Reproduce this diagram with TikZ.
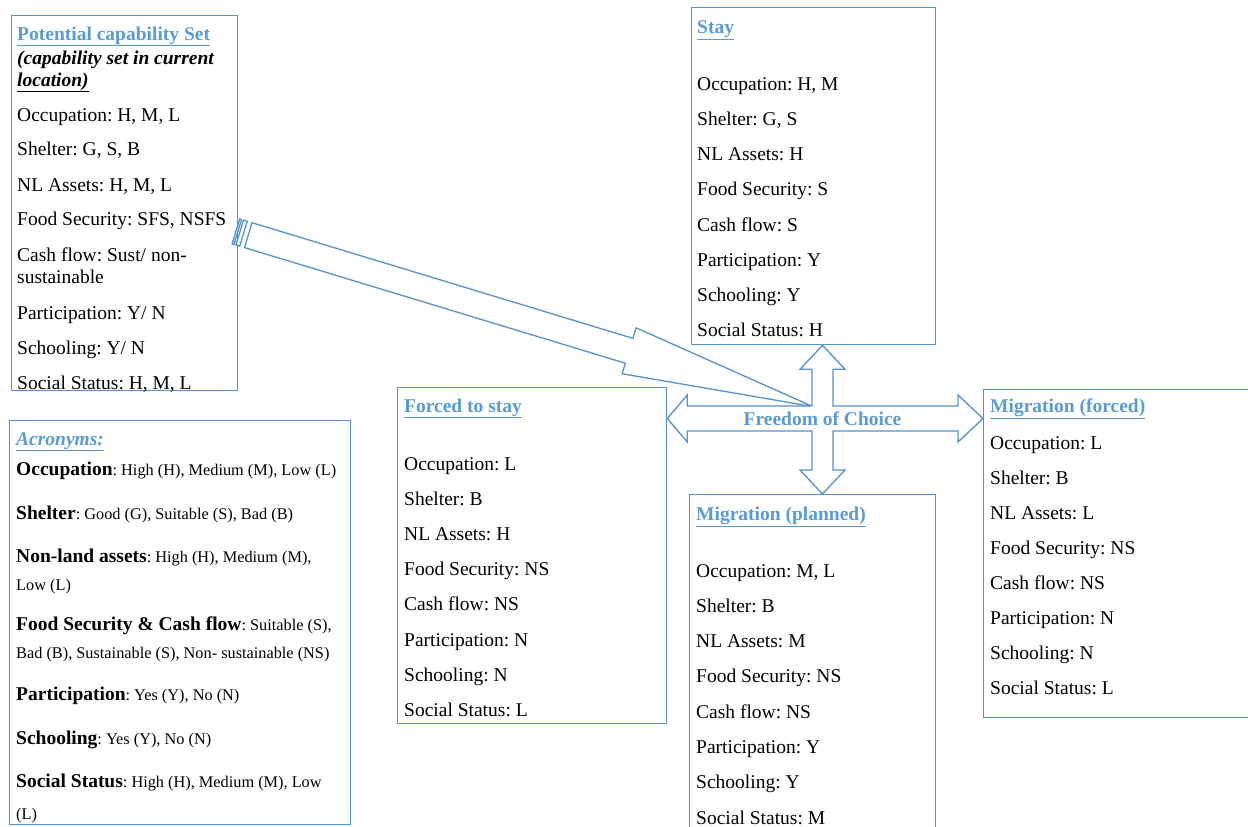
\documentclass[tikz,border=0pt]{standalone}
\usepackage{fontspec}
\setmainfont{Liberation Serif}
\usepackage{tikz}
\usetikzlibrary{positioning, calc}

\definecolor{boxblue}{RGB}{86,145,208}
\definecolor{headblue}{RGB}{91,155,213}

\tikzstyle{panel} =
[rectangle, anchor=north west, inner sep=0pt, draw=boxblue, line width=1.3pt]
\tikzstyle{entry} =
[anchor=base west, inner sep=0pt, font=\fontsize{19.5}{22}\selectfont]
\tikzstyle{heading} =
[entry, text=headblue, font=\fontsize{19.5}{22}\selectfont\bfseries]
\tikzstyle{subheading} =
[entry, font=\fontsize{19.5}{22}\selectfont\bfseries\itshape]
\tikzstyle{acroentry} =
[entry, font=\fontsize{16.3}{20}\selectfont]
\tikzstyle{block} = [draw=boxblue, line width=1.3pt, fill=white, line join=miter]

\newcommand{\acrlab}[1]{{\fontsize{19.5}{22}\selectfont\bfseries #1}}

\begin{document}
\frenchspacing
\begin{tikzpicture}[x=1pt, y=-1pt]
  \useasboundingbox (0,0) rectangle (1248,827);
  \clip (0,0) rectangle (1248,827);
  % boxes
  \node [panel, minimum width=226pt, minimum height=375pt] (potential) at (11,15) {};
  \node [panel, minimum width=341pt, minimum height=404pt] (acronyms) at (9,420) {};
  \node [panel, minimum width=244pt, minimum height=337pt] (stay) at (691,7) {};
  \node [panel, minimum width=269pt, minimum height=336pt] (forcedstay) at (397,387) {};
  \node [panel, minimum width=246pt, minimum height=350pt] (planned) at (689,494) {};
  \node [panel, minimum width=280pt, minimum height=328pt] (forced) at (983,389) {};
  %
  % potential capability set
  \node [heading] (pot-title) at (17,40) {\underline{Potential capability Set}};
  \node [subheading] (pot-sub1) at (17,64) {(capability set in current};
  \node [subheading] (pot-sub2) at (17,86) {\underline{location)}};
  \foreach \y/\t [count=\i] in {121/{Occupation: H, M, L}, 155/{Shelter: G, S, B},
      191/{NL Assets: H, M, L}, 225/{Food Security: SFS, NSFS},
      261/{Cash flow: Sust/ non-}, 283/{sustainable}, 319/{Participation: Y/ N},
      354/{Schooling: Y/ N}, 389/{Social Status: H, M, L}}
    \node [entry] (pot-\i) at (17,\y) {\t};
  %
  % acronyms
  \node [heading, font=\fontsize{19.5}{22}\selectfont\bfseries\itshape] (acr-title)
    at (16,445) {\underline{Acronyms:}};
  \foreach \y/\t [count=\i] in {475/{\acrlab{Occupation}: High (H), Medium (M), Low (L)},
      519/{\acrlab{Shelter}: Good (G), Suitable (S), Bad (B)},
      562/{\acrlab{Non-land assets}: High (H), Medium (M),}, 590/{Low (L)},
      630/{\acrlab{Food Security \& Cash flow}: Suitable (S),},
      658/{Bad (B), Sustainable (S), Non- sustainable (NS)},
      700/{\acrlab{Participation}: Yes (Y), No (N)},
      744/{\acrlab{Schooling}: Yes (Y), No (N)},
      787/{\acrlab{Social Status}: High (H), Medium (M), Low}, 819/{(L)}}
    \node [acroentry] (acr-\i) at (16,\y) {\t};
  %
  % outcome boxes
  \node [heading] (stay-title) at (697,34) {\underline{Stay}};
  \foreach \t [count=\i from 0] in {{Occupation: H, M}, {Shelter: G, S}, {NL Assets: H},
      {Food Security: S}, {Cash flow: S}, {Participation: Y}, {Schooling: Y},
      {Social Status: H}}
    \node [entry] (stay-\i) at (697,90+35.25*\i) {\t};
  \node [heading] (fst-title) at (404,412) {\underline{Forced to stay}};
  \foreach \t [count=\i from 0] in {{Occupation: L}, {Shelter: B}, {NL Assets: H},
      {Food Security: NS}, {Cash flow: NS}, {Participation: N}, {Schooling: N},
      {Social Status: L}}
    \node [entry] (fst-\i) at (404,470+35.2*\i) {\t};
  \node [heading] (pl-title) at (696,520) {\underline{Migration (planned)}};
  \foreach \t [count=\i from 0] in {{Occupation: M, L}, {Shelter: B}, {NL Assets: M},
      {Food Security: NS}, {Cash flow: NS}, {Participation: Y}, {Schooling: Y},
      {Social Status: M}}
    \node [entry] (pl-\i) at (696,577+35.3*\i) {\t};
  \node [heading] (fo-title) at (990,412) {\underline{Migration (forced)}};
  \foreach \t [count=\i from 0] in {{Occupation: L}, {Shelter: B}, {NL Assets: L},
      {Food Security: NS}, {Cash flow: NS}, {Participation: N}, {Schooling: N},
      {Social Status: L}}
    \node [entry] (fo-\i) at (990,449+35*\i) {\t};
  %
  % striped arrow into the hub
  \coordinate (hub) at (822.5,418.5);
  \coordinate (tail) at ($(potential.east)+(10,32)$);
  \begin{scope}[shift={(tail)}, rotate=-16.89, x=1pt, y=1pt]
    \draw [block] (0,13) -- (398,13) -- (398,24) -- (590,0) -- (398,-24)
      -- (398,-13) -- (0,-13) -- cycle;
    \draw [block] (-13,13) rectangle (-11,-13);
    \draw [block] (-9,13) rectangle (-5,-13);
  \end{scope}
  %
  % four-way arrow
  \coordinate (up) at (hub |- stay.south);
  \coordinate (dn) at (hub |- planned.north);
  \coordinate (lt) at (hub -| forcedstay.east);
  \coordinate (rt) at (hub -| forced.west);
  \draw [block] (up) -- ++(22.5,24) -- ++(-12,0) |- ($(rt)+(-25,-12.5)$) -- ++(0,-11)
    -- (rt) -- ++(-25,23.5) -- ++(0,-11) -| ($(dn)+(10.5,-24)$) -- ++(12,0)
    -- (dn) -- ++(-22.5,-24) -- ++(12,0) |- ($(lt)+(20,12.5)$) -- ++(0,11)
    -- (lt) -- ++(20,-23.5) -- ++(0,11) -| ($(up)+(-10.5,24)$) -- ++(-12,0) -- cycle;
  \node [heading, anchor=center] (choice) at (hub) {Freedom of Choice};
\end{tikzpicture}
\end{document}
